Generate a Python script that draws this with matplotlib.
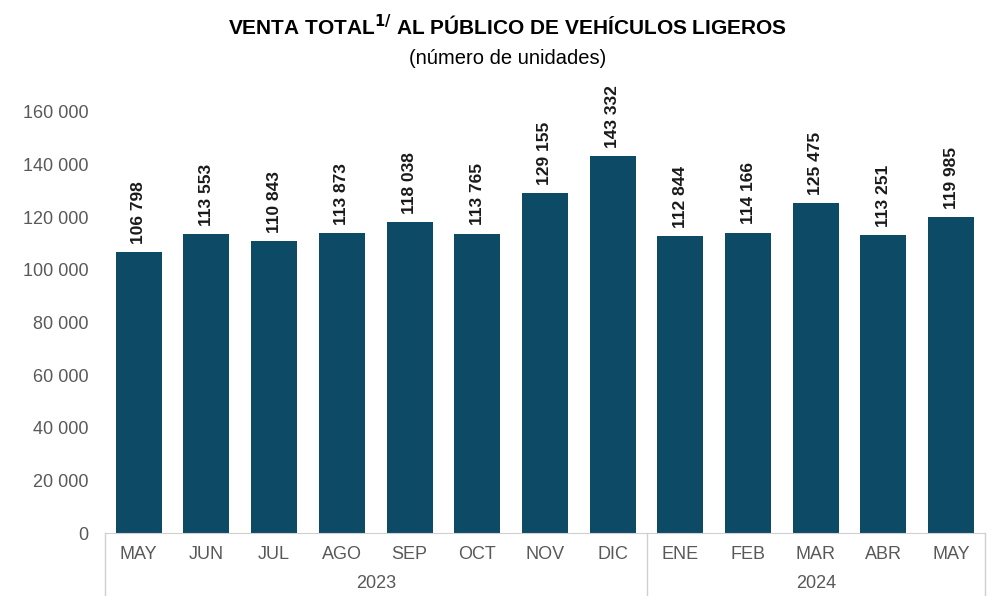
import matplotlib
matplotlib.use("Agg")
import matplotlib.pyplot as plt
import numpy as np

plt.rcParams['font.family'] = ['Liberation Sans', 'DejaVu Sans']

months = ['MAY', 'JUN', 'JUL', 'AGO', 'SEP', 'OCT', 'NOV', 'DIC',
          'ENE', 'FEB', 'MAR', 'ABR', 'MAY']
ventas = [106798, 113553, 110843, 113873, 118038, 113765, 129155, 143332,
          112844, 114166, 125475, 113251, 119985]
years = ['2023', '2024']
months_per_year = [8, 5]

bar_color = '#0d4a66'
grey = '#595959'
line_grey = '#d0d0d0'


def fmt(v):
    return '{:,}'.format(int(v)).replace(',', ' ')


fig = plt.figure(figsize=(9.99, 5.96), dpi=100)
ax = fig.add_axes([0.105, 0.1057, 0.881, 0.7064])

x = np.arange(len(months))
ax.bar(x, ventas, width=0.68, color=bar_color)
for xi, v in zip(x, ventas):
    ax.annotate(fmt(v), (xi, v), xytext=(0, 6), textcoords='offset points',
                rotation=90, ha='center', va='bottom', fontsize=12.5,
                fontweight='bold', color='#1a1a1a')

ax.set_xlim(-0.5, len(months) - 0.5)
ax.set_ylim(0, 160000)
ax.set_yticks(np.arange(0, 160001, 20000))
ax.set_yticklabels([fmt(t) for t in np.arange(0, 160001, 20000)])
ax.set_xticks(x)
ax.set_xticklabels(months)
ax.tick_params(axis='both', length=0, colors=grey, labelsize=13)
ax.tick_params(axis='y', pad=12)
ax.tick_params(axis='x', pad=9)

for s in ['top', 'right', 'left']:
    ax.spines[s].set_visible(False)
ax.spines['bottom'].set_color(line_grey)

# year group separators and labels
bounds = np.concatenate([[0], np.cumsum(months_per_year)]) - 0.5
trans = ax.get_xaxis_transform()
for b in bounds:
    ax.plot([b, b], [0, -0.16], transform=trans, color=line_grey, lw=1,
            clip_on=False)
for i, yr in enumerate(years):
    ax.text((bounds[i] + bounds[i + 1]) / 2, -0.12, yr, transform=trans,
            ha='center', va='center', fontsize=13, color=grey)

fig.text(0.508, 0.955, r'VENTA TOTAL$^{\mathbf{1/}}$ AL PÚBLICO DE VEHÍCULOS LIGEROS',
         ha='center', va='center', fontsize=15, fontweight='bold')
fig.text(0.508, 0.902, '(número de unidades)', ha='center', va='center',
         fontsize=14.5)

fig.savefig('out.png', dpi=100)
